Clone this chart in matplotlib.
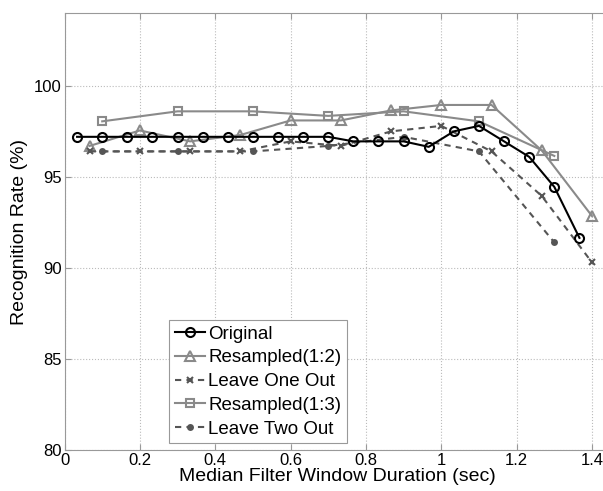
import matplotlib
matplotlib.use("Agg")
import matplotlib.pyplot as plt

plt.rcParams["font.family"] = ["Liberation Sans", "DejaVu Sans"]

# ── 数据 ──
x_orig = [1/30, 3/30, 5/30, 7/30, 9/30, 11/30, 13/30, 15/30, 17/30, 19/30, 21/30,
          23/30, 25/30, 27/30, 29/30, 31/30, 33/30, 35/30, 37/30, 39/30, 41/30]
y_orig = [97.2, 97.2, 97.2, 97.2, 97.2, 97.2, 97.2, 97.2, 97.2, 97.2, 97.2,
          96.95, 96.95, 96.95, 96.65, 97.5, 97.8, 96.95, 96.1, 94.45, 91.65]

x_even = [2/30, 6/30, 10/30, 14/30, 18/30, 22/30, 26/30, 30/30, 34/30, 38/30, 42/30]
y_res12 = [96.7, 97.55, 96.95, 97.3, 98.1, 98.1, 98.65, 98.95, 98.95, 96.45, 92.85]
y_loo = [96.4, 96.4, 96.4, 96.4, 96.95, 96.7, 97.5, 97.8, 96.4, 93.95, 90.3]

x_odd = [0.1, 0.3, 0.5, 0.7, 0.9, 1.1, 1.3]
y_res13 = [98.05, 98.6, 98.6, 98.35, 98.6, 98.05, 96.15]
y_lto = [96.4, 96.4, 96.4, 96.7, 97.2, 96.4, 91.4]

x_ticks = [0, 0.2, 0.4, 0.6, 0.8, 1.0, 1.2, 1.4]
x_ticklabels = ["0", "0.2", "0.4", "0.6", "0.8", "1", "1.2", "1.4"]
y_ticks = [80, 85, 90, 95, 100]

# ── 配色 ──
BLACK = "#000000"
LIGHT = "#8a8a8a"
DARK = "#555555"

fig = plt.figure(figsize=(6.03, 4.91), dpi=100)
ax = fig.add_axes([0.107, 0.0835, 0.906, 0.890])

ax.plot(x_orig, y_orig, color=BLACK, lw=1.5, marker="o", ms=6.5, mfc="none",
        mew=1.5, label="Original", zorder=5)
ax.plot(x_even, y_res12, color=LIGHT, lw=1.5, marker="^", ms=7.5, mfc="none",
        mew=1.5, label="Resampled(1:2)", zorder=3)
ax.plot(x_even, y_loo, color=DARK, lw=1.5, ls=(0, (3, 2.5)), marker="x", ms=4.5,
        mew=1.5, label="Leave One Out", zorder=4)
ax.plot(x_odd, y_res13, color=LIGHT, lw=1.5, marker="s", ms=6, mfc="none",
        mew=1.5, label="Resampled(1:3)", zorder=3)
ax.plot(x_odd, y_lto, color=DARK, lw=1.5, ls=(0, (3, 2.5)), marker="o", ms=5,
        mew=0, label="Leave Two Out", zorder=4)

ax.set_xlim(0, 1.45)
ax.set_ylim(80, 104)
ax.set_xticks(x_ticks)
ax.set_xticklabels(x_ticklabels)
ax.set_yticks(y_ticks)
ax.tick_params(direction="in", top=True, right=True, labelsize=12,
               color="#999999", length=4, pad=2)
for s in ax.spines.values():
    s.set_color("#999999")
ax.grid(True, ls=":", color="#bbbbbb", lw=0.8)

ax.set_xlabel("Median Filter Window Duration (sec)", fontsize=14, labelpad=0)
ax.set_ylabel("Recognition Rate (%)", fontsize=14, labelpad=4)

leg = ax.legend(loc="upper left", bbox_to_anchor=(169 / 603, 1 - 320 / 491),
                bbox_transform=fig.transFigure, fontsize=13.5, frameon=True,
                fancybox=False, framealpha=1, edgecolor="#999999",
                borderpad=0.3, labelspacing=0.35, handlelength=1.6,
                handletextpad=0.2, borderaxespad=0)
leg.get_frame().set_linewidth(0.8)

fig.savefig("out.png", dpi=100)
